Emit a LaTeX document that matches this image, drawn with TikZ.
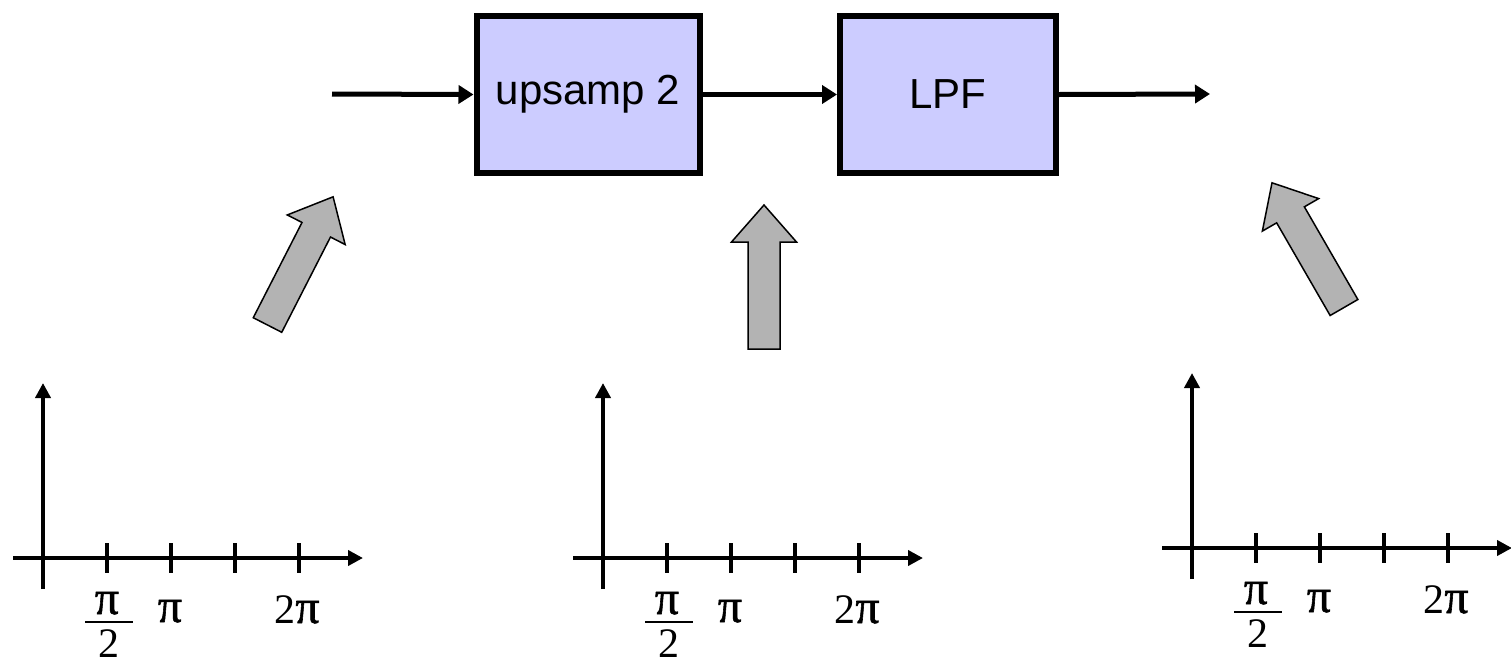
\documentclass[tikz,border=0pt]{standalone}
\usepackage{fontspec}
\setmainfont{Liberation Sans}
\newfontfamily\tmsfont{Liberation Serif}
\newfontfamily\pifont[FakeBold=1.2]{Liberation Serif}
\usetikzlibrary{arrows.meta}
\definecolor{boxblue}{RGB}{204,204,255}
\definecolor{arrowgray}{RGB}{179,179,179}
\newcommand\bigpi{{\pifont\fontsize{48}{48}\selectfont π}}
\newcommand\specplot[3]{%
\begin{scope}[shift={(#2,#3)}]
\coordinate (#1o) at (0,0);
\coordinate (#1yb) at (0,31);
\coordinate (#1yt) at (0,-175);
\coordinate (#1xl) at (-30,0);
\coordinate (#1xr) at (320,0);
\draw[axis] (#1yb) -- (#1yt);
\draw[axis] (#1xl) -- (#1xr);
\foreach \t in {64,128,192,256} \draw[tickmk] (\t,-15) -- (\t,15);
\node[lab] (#1n) at (64,56) {\bigpi};
\coordinate (#1bl) at (42,64);
\coordinate (#1br) at (90,64);
\draw[line width=2pt] (#1bl) -- (#1br);
\node[lab] (#1d) at (66,99) {2};
\node[lab] (#1p) at (127,64) {\bigpi};
\node[lab] (#1tp) at (254,65) {2\bigpi};
\end{scope}}
\newcommand\fatarrow[3]{%
\begin{scope}[shift={(#1,#2)}, rotate=#3]
\draw[fat] (0,-16) -- (107,-16) -- (107,-32.5) -- (144,0) -- (107,32.5) -- (107,16) -- (0,16) -- cycle;
\end{scope}}
\begin{document}
\begin{tikzpicture}[x=1pt,y=-1pt,
  blk/.style={draw=black, line width=6pt, fill=boxblue, inner sep=0pt, font=\fontsize{42}{48}\selectfont},
  sig/.style={line width=5pt, -{Triangle[length=15pt,width=18pt]}},
  axis/.style={line width=4.5pt, -{Triangle[length=15pt,width=15pt]}},
  tickmk/.style={line width=4.5pt},
  lab/.style={inner sep=0pt, anchor=base, font=\tmsfont\fontsize{42}{42}\selectfont},
  fat/.style={draw=black, line width=1.5pt, fill=arrowgray, line join=miter}]
\useasboundingbox (0,0) rectangle (1511,662);
% block diagram
\node[blk, minimum width=223pt, minimum height=157.5pt] (up) at (588,94.5) {upsamp 2};
\node[blk, minimum width=215.5pt, minimum height=157.5pt] (lpf) at (947.8,94.5) {LPF};
\coordinate (in) at (332,94);
\coordinate (out) at (1210,94);
\draw[sig] (in) -- (up.west);
\draw[sig] (up.east) -- (lpf.west);
\draw[sig] (lpf.east) -- (out);
% gray block arrows
\fatarrow{267.5}{325}{62.9}
\fatarrow{764}{349}{90}
\fatarrow{1344}{307.5}{120}
% spectra axes
\specplot{a}{43}{558}
\specplot{b}{603}{558}
\specplot{c}{1192}{548}
\end{tikzpicture}
\end{document}
